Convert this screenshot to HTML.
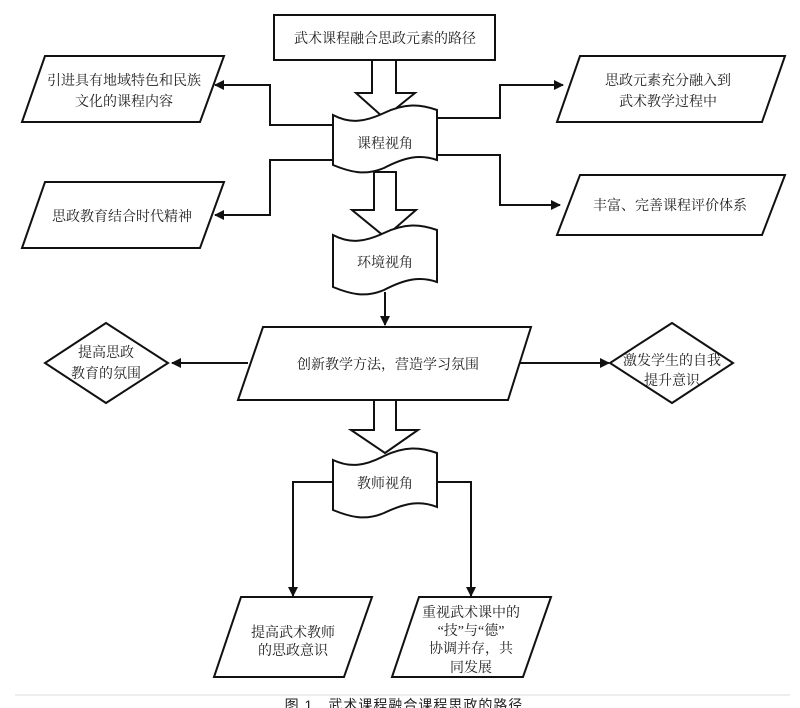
<!DOCTYPE html>
<html><head><meta charset="utf-8"><style>
html,body{margin:0;padding:0;background:#fff;}
svg{display:block;}
text{font-family:"Liberation Serif","Noto Serif CJK SC",serif;font-size:14px;fill:#222;text-anchor:middle;}
</style></head><body>
<svg width="800" height="708" viewBox="0 0 800 708" xmlns="http://www.w3.org/2000/svg">
<defs>
<marker id="ah" markerWidth="10" markerHeight="10" refX="9" refY="5" orient="auto" markerUnits="userSpaceOnUse">
<path d="M0,0 L10,5 L0,10 Z" fill="#111"/></marker>
</defs>
<g fill="#fff" stroke="#111" stroke-width="2">
<!-- top rect -->
<rect x="274" y="15" width="221" height="45"/>
<!-- big arrow 1 -->
<path d="M372,60 L396,60 L396,93 L415,93 L384,118 L356,93 L372,93 Z"/>
<!-- tape 1 -->
<path d="M333,115 C350,124 365,122 384,113 C405,103 420,104 437,110 L437,160 C420,154 405,157 384,168 C365,176 350,172 333,165 Z"/>
<!-- connectors tape1 -->
<polyline fill="none" points="333,125 270,125 270,85 215,85" marker-end="url(#ah)"/>
<polyline fill="none" points="437,118 500,118 500,85 563,85" marker-end="url(#ah)"/>
<polyline fill="none" points="333,160 270,160 270,215 215,215" marker-end="url(#ah)"/>
<polyline fill="none" points="437,155 500,155 500,205 560,205" marker-end="url(#ah)"/>
<!-- parallelograms -->
<path d="M45,56 L224,56 L200,122 L22,122 Z"/>
<path d="M580,56 L785,56 L762,122 L557,122 Z"/>
<path d="M45,182 L224,182 L200,248 L22,248 Z"/>
<path d="M580,175 L785,175 L762,235 L557,235 Z"/>
<!-- arrow 2 -->
<path d="M374,172 L396,172 L396,210 L416,210 L385,237 L352,210 L374,210 Z"/>
<!-- tape 2 -->
<path d="M333,235 C350,244 365,242 384,233 C405,223 420,224 437,230 L437,282 C420,276 405,279 384,290 C365,298 350,294 333,287 Z"/>
<line x1="385" y1="292" x2="385" y2="325" marker-end="url(#ah)"/>
<!-- main para -->
<path d="M263,327 L531,327 L508,400 L238,400 Z"/>
<line x1="248" y1="363" x2="172" y2="363" marker-end="url(#ah)"/>
<line x1="520" y1="363" x2="609" y2="363" marker-end="url(#ah)"/>
<path d="M106,323 L168,363 L106,403 L45,363 Z"/>
<path d="M672,323 L733,363 L672,403 L610,363 Z"/>
<!-- arrow 3 -->
<path d="M374,400 L396,400 L396,430 L418,430 L385,453 L351,430 L374,430 Z"/>
<!-- tape 3 -->
<path d="M333,460 C350,468 365,466 384,456 C405,446 420,447 437,453 L437,507 C420,500 405,503 384,513 C365,521 350,517 333,510 Z"/>
<polyline fill="none" points="333,482 293,482 293,596" marker-end="url(#ah)"/>
<polyline fill="none" points="437,482 471,482 471,596" marker-end="url(#ah)"/>
<path d="M241,597 L372,597 L344,677 L214,677 Z"/>
<path d="M419,597 L551,597 L523,677 L392,677 Z"/>
</g>
<line x1="15" y1="695" x2="790" y2="695" stroke="#ddd" stroke-width="1"/>
<text x="385" y="43">武术课程融合思政元素的路径</text>
<text x="124" y="85">引进具有地域特色和民族</text>
<text x="124" y="106">文化的课程内容</text>
<text x="668" y="85">思政元素充分融入到</text>
<text x="668" y="106">武术教学过程中</text>
<text x="385" y="148">课程视角</text>
<text x="122" y="221">思政教育结合时代精神</text>
<text x="670" y="210">丰富、完善课程评价体系</text>
<text x="385" y="267">环境视角</text>
<text x="388" y="369">创新教学方法，营造学习氛围</text>
<text x="106" y="357">提高思政</text>
<text x="106" y="378">教育的氛围</text>
<text x="672" y="365">激发学生的自我</text>
<text x="672" y="385">提升意识</text>
<text x="385" y="488">教师视角</text>
<text x="293" y="637">提高武术教师</text>
<text x="293" y="655">的思政意识</text>
<text x="471" y="617">重视武术课中的</text>
<text x="471" y="635">“技”与“德”</text>
<text x="471" y="653">协调并存，共</text>
<text x="471" y="672">同发展</text>
<text x="404" y="710" style="font-family:'Liberation Sans','Noto Sans CJK SC',sans-serif;font-size:14px;letter-spacing:1px">图 1　武术课程融合课程思政的路径</text>
</svg>
</body></html>
